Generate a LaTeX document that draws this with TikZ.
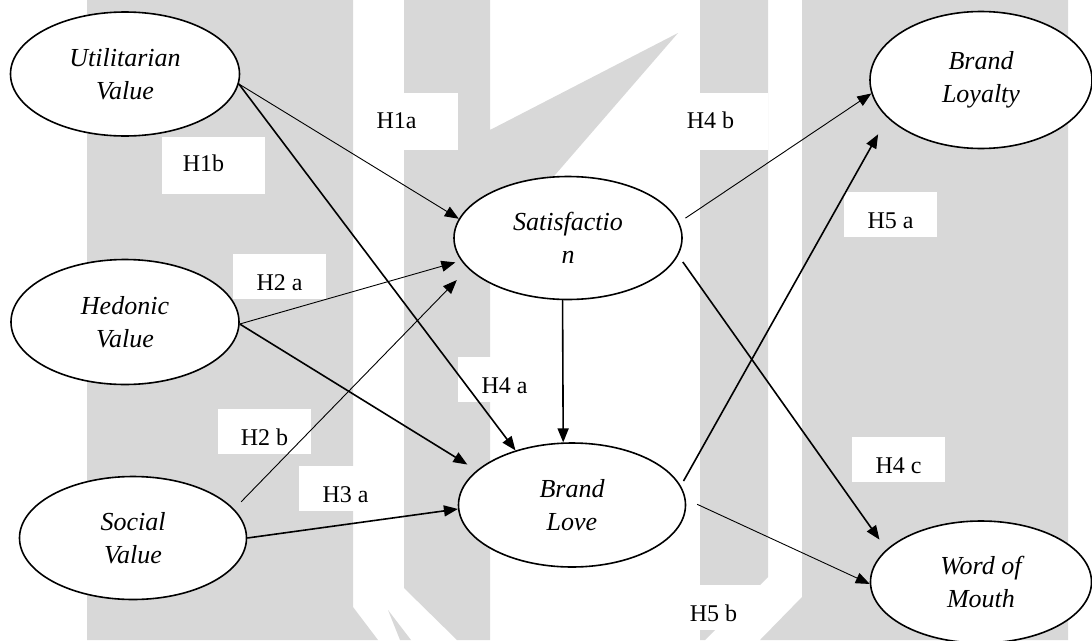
\documentclass[tikz,border=0pt]{standalone}
\usepackage{fontspec}
\setmainfont{Liberation Serif}
\usetikzlibrary{arrows.meta,shapes.geometric}
\definecolor{wm}{RGB}{216,216,216}
\begin{document}
\begin{tikzpicture}[x=1pt,y=-1pt,
  var/.style={ellipse, draw, line width=1.6pt, fill=white, inner sep=0pt, align=center,
    font=\itshape\fontsize{26}{32.5}\selectfont},
  lbl/.style={fill=white, inner sep=0pt, minimum width=93pt,
    font=\fontsize{24}{28}\selectfont, text height=36pt, text depth=9pt},
  lblbig/.style={lbl, minimum width=103pt, text height=35pt, text depth=22pt},
  arrthin/.style={line width=0.9pt, -{Triangle[length=14pt,width=11pt]}},
  arrthick/.style={line width=1.6pt, -{Triangle[length=14pt,width=11pt]}},
]
\useasboundingbox (0,0) rectangle (1092,640);
\fill[white] (0,0) rectangle (1092,640);
% watermark
\fill[wm] (87,0) -- (353,0) -- (353,607) -- (378,640) -- (87,640) -- cycle;
\fill[wm] (388,610) -- (411,640) -- (400,640) -- cycle;
\fill[wm] (404,0) -- (490,0) -- (490,130) -- (678,33) -- (490,250) -- (490,640) -- (457,640) -- (404,588) -- cycle;
\fill[wm] (700,0) -- (768,0) -- (768,577) -- (705,640) -- (700,640) -- cycle;
\fill[wm] (802,0) -- (1068,0) -- (1068,640) -- (760,640) -- (802,597) -- cycle;
% labels
\node[lblbig] (l1a) at (406.5,121.5) {H1a\kern20pt\relax};
\node[lblbig] (l1b) at (213.5,165) {H1b\kern20pt\relax};
\node[lblbig] (l4b) at (716.5,121.5) {H4 b\kern12pt\relax};
\node[lbl] (l2a) at (279.5,276.5) {H2 a};
\node[lbl] (l2b) at (264.5,431.5) {H2 b};
\node[lbl] (l3a) at (345.5,488.5) {H3 a};
\node[lbl] (l4a) at (504.5,379.5) {H4 a};
\node[lbl] (l5a) at (890.5,214.5) {H5 a};
\node[lbl] (l4c) at (898.5,459.5) {H4 c};
\node[lbl] (l5b) at (713.5,607.5) {H5 b};
% constructs
\node[var, minimum width=229pt, minimum height=124pt] (U) at (125,74) {Utilitarian\\Value};
\node[var, minimum width=228pt, minimum height=125pt] (H) at (125,322) {Hedonic\\Value};
\node[var, minimum width=227pt, minimum height=123pt] (S) at (133,538) {Social\\Value};
\node[var, minimum width=228pt, minimum height=123pt] (Sat) at (568,238) {Satisfactio\\n};
\node[var, minimum width=227pt, minimum height=124pt] (BL) at (572,505) {Brand\\Love};
\node[var, minimum width=222pt, minimum height=137pt] (BLo) at (981,80) {Brand\\Loyalty};
\node[var, minimum width=221pt, minimum height=122pt] (WoM) at (981,582) {Word of\\Mouth};
% paths
\draw[arrthin] (U.-5) -- (Sat.170);
\draw[arrthick] (U.-5.6) -- (BL.136.7);
\draw[arrthin, shorten >=6pt] (H.-1.5) -- (Sat.192.5);
\draw[arrthick, shorten >=11pt] (H.-1.5) -- (BL.160.1);
\draw[arrthin, shorten <=10pt, shorten >=16pt] (S.16.2) -- (Sat.197.2);
\draw[arrthick] (S.-0.5) -- (BL.182.3);
\draw[arrthick] (Sat.265.4) -- (BL.98.3);
\draw[arrthin, shorten <=7.6pt] (Sat.8.7) -- (BLo.187.1);
\draw[arrthick, shorten <=8pt, shorten >=12pt] (Sat.-9.1) -- (WoM.161.1);
\draw[arrthick, shorten <=5.5pt, shorten >=18.8pt] (BL.10.7) -- (BLo.202.9);
\draw[arrthin, shorten <=12.5pt] (BL.3.7) -- (WoM.181.5);
\end{tikzpicture}
\end{document}
